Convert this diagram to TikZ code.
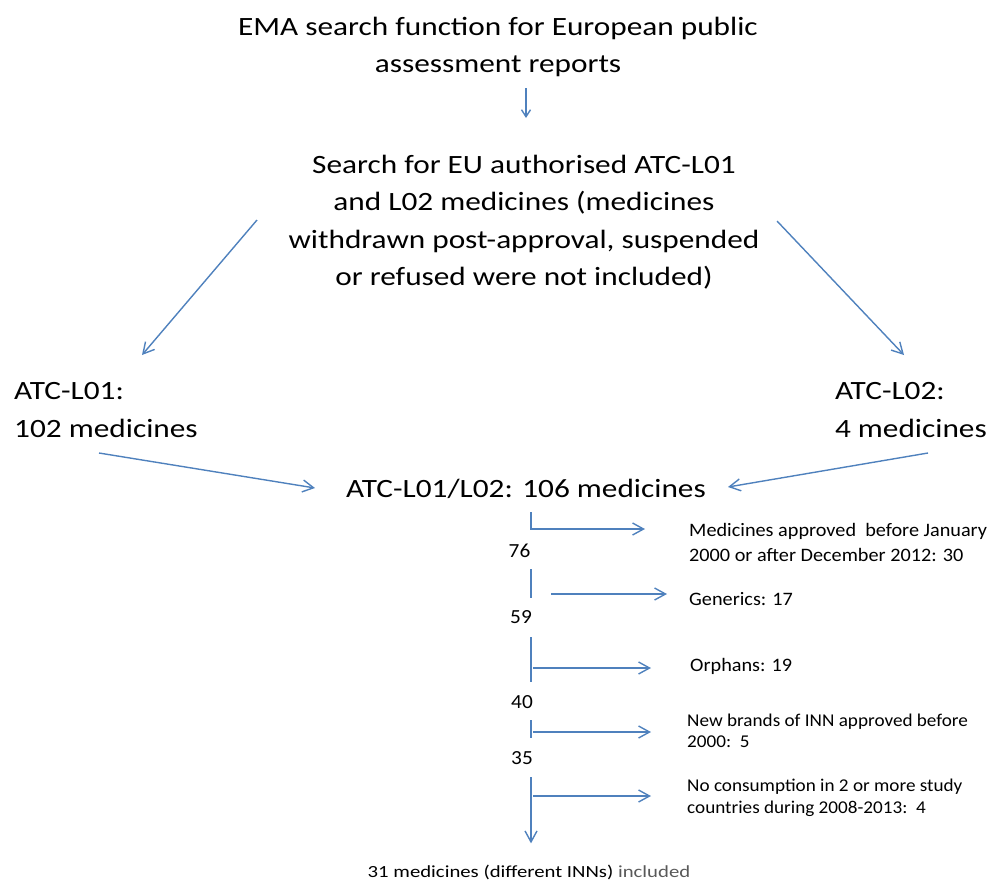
\documentclass[tikz,border=0pt]{standalone}
\usepackage{fontspec}
\setmainfont{Carlito}
\newfontfamily\bigfont{Carlito}[FakeStretch=1.185]
\newfontfamily\smallfont{Carlito}[FakeStretch=1.065]
\newfontfamily\finalfont{Carlito}[FakeStretch=1.22]
\usetikzlibrary{arrows.meta}
\definecolor{flowblue}{RGB}{79,129,189}
\definecolor{textgrey}{RGB}{89,89,89}
\begin{document}
\begin{tikzpicture}[x=1pt,y=-1pt,>={Straight Barb[length=11pt,width=12pt]},
  big/.style={inner sep=0pt,align=center,font=\bigfont\fontsize{26.4}{37.5}\selectfont},
  small/.style={inner sep=0pt,align=left,font=\smallfont\fontsize{19}{25}\selectfont},
  note/.style={inner sep=0pt,align=left,font=\smallfont\fontsize{18}{21.5}\selectfont},
  num/.style={inner sep=0pt,font=\smallfont\fontsize{20}{24}\selectfont},
  flow/.style={draw=flowblue,line width=1.4pt,->},
  link/.style={draw=flowblue,line width=1.4pt}]
  \useasboundingbox (0,0) rectangle (990,881);
  % search steps
  \node[big,anchor=base] (ema) at (498,72.5) {EMA search function for European public\\assessment reports};
  \node[big,anchor=base] (search) at (524,285.5) {Search for EU authorised ATC-L01\\and L02 medicines (medicines\\withdrawn post-approval, suspended\\or refused were not included)};
  \node[big,anchor=base west,align=left] (l01) at (14,437) {ATC-L01:\\102 medicines};
  \node[big,anchor=base east,align=left] (l02) at (987,437) {ATC-L02:\\4 medicines};
  \node[big,anchor=base] (both) at (526,497) {ATC-L01/L02: 106 medicines};
  % remaining counts
  \node[num,anchor=base] (n76) at (519.5,557) {76};
  \node[num,anchor=base] (n59) at (521,623) {59};
  \node[num,anchor=base] (n40) at (522,708) {40};
  \node[num,anchor=base] (n35) at (522,764) {35};
  \node[inner sep=0pt,anchor=base,font=\finalfont\fontsize{17}{20}\selectfont] (final) at (529,877) {31 medicines (different INNs) \textcolor{textgrey}{included}};
  % exclusions
  \node[small,anchor=base west] (r1) at (689,561.7) {Medicines approved\ \ before January\\2000 or after December 2012: 30};
  \node[small,anchor=base west] (r2) at (689,605) {Generics: 17};
  \node[small,anchor=base west] (r3) at (690,671.7) {Orphans: 19};
  \node[note,anchor=base west] (r4) at (687,747.7) {New brands of INN approved before\\2000:\ \ 5};
  \node[note,anchor=base west] (r5) at (687,813) {No consumption in 2 or more study\\countries during 2008-2013:\ \ 4};
  % arrows
  \coordinate (t1) at (526,88);
  \coordinate (t2) at (526,118);
  \coordinate (dl1) at (257,220);
  \coordinate (dl2) at (142,355);
  \coordinate (dr1) at (777,221);
  \coordinate (dr2) at (904,355);
  \coordinate (ml1) at (99,453);
  \coordinate (ml2) at (315,488);
  \coordinate (mr1) at (928,453);
  \coordinate (mr2) at (728,487);
  \coordinate (v) at (531,0);
  \coordinate (b1) at (531,529);
  \coordinate (b2) at (551,594);
  \coordinate (b3) at (533,668);
  \coordinate (b4) at (533,732);
  \coordinate (b5) at (533,796);
  \draw[flow,>={Straight Barb[length=7pt,width=9pt]}] (t1) -- (t2);
  \draw[flow] (dl1) -- (dl2);
  \draw[flow] (dr1) -- (dr2);
  \draw[flow] (ml1) -- (ml2);
  \draw[flow] (mr1) -- (mr2);
  \draw[flow,shorten <=14pt,shorten >=44pt] (both.south -| v) |- (b1 -| r1.west);
  \draw[link,shorten <=12pt,shorten >=12pt] (n76.south -| v) -- (n59.north -| v);
  \draw[link,shorten <=14pt,shorten >=13pt] (n59.south -| v) -- (n40.north -| v);
  \draw[link,shorten <=12pt,shorten >=13pt] (n40.south -| v) -- (n35.north -| v);
  \draw[flow,shorten <=13pt,shorten >=21pt] (n35.south -| v) -- (final.north -| v);
  \draw[flow,shorten >=22pt] (b2) -- (b2 -| r2.west);
  \draw[flow,shorten >=39pt] (b3) -- (b3 -| r3.west);
  \draw[flow,shorten >=36pt] (b4) -- (b4 -| r4.west);
  \draw[flow,shorten >=36pt] (b5) -- (b5 -| r5.west);
\end{tikzpicture}
\end{document}
